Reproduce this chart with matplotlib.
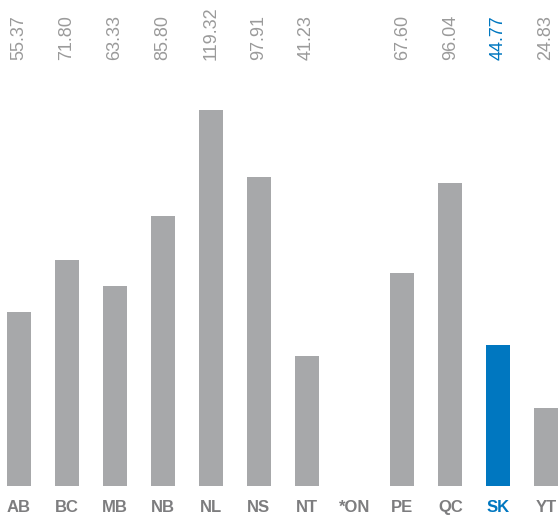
import numpy as np
import matplotlib.pyplot as plt
from matplotlib.transforms import blended_transform_factory

plt.rcParams['font.family'] = ['Liberation Sans', 'DejaVu Sans']

# data
provinces = ["AB", "BC", "MB", "NB", "NL", "NS", "NT", "*ON", "PE", "QC", "SK", "YT"]
values = [55.37, 71.80, 63.33, 85.80, 119.32, 97.91, 41.23, np.nan, 67.60, 96.04, 44.77, 24.83]
highlight = "SK"

grey = "#a7a8aa"
blue = "#0077c0"
txt_grey = "#9a9a9a"
lab_grey = "#7d7d7f"

fig = plt.figure(figsize=(5.6, 5.18), dpi=100)
ax = fig.add_axes([0, 32 / 518, 1, 376 / 518])

x = np.arange(len(provinces))
cols = [blue if p == highlight else grey for p in provinces]
ax.bar(x, values, width=0.5, color=cols)

ax.set_xlim(-0.397, 11.29)
ax.set_ylim(0, 119.32)

for s in ax.spines.values():
    s.set_visible(False)
ax.set_yticks([])
ax.set_xticks(x)
ax.set_xticklabels(provinces, fontsize=12, fontweight="bold")
ax.tick_params(axis="x", length=0, pad=10)
for lbl, p in zip(ax.get_xticklabels(), provinces):
    lbl.set_color(blue if p == highlight else lab_grey)

# value labels across the top
trans = blended_transform_factory(ax.transData, fig.transFigure)
for xi, v, p in zip(x, values, provinces):
    if np.isnan(v):
        continue
    ax.text(xi, 1 - 60 / 518, f"{v:.2f}", transform=trans, rotation=90,
            ha="center", va="bottom", fontsize=13,
            color=blue if p == highlight else txt_grey, clip_on=False)

fig.savefig("out.png", dpi=100)
